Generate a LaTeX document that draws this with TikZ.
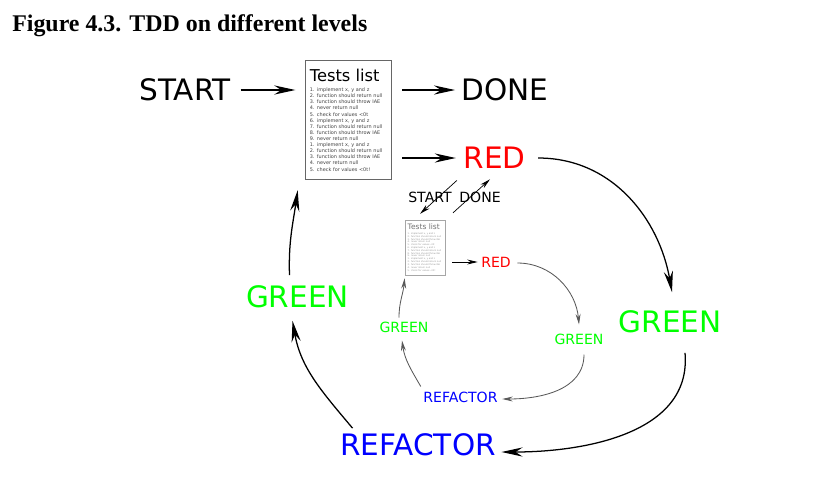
\documentclass[tikz,border=0pt]{standalone}
\usepackage{fontspec}
\setmainfont{Liberation Serif}
\setsansfont{DejaVu Sans}
\usepackage{xcolor}
\definecolor{Ink}{HTML}{000000}
\definecolor{RedStep}{HTML}{FF0000}
\definecolor{GreenStep}{HTML}{00FF00}
\definecolor{BlueStep}{HTML}{0000FF}
\usepackage{tikz}
\usetikzlibrary{arrows.meta,positioning}

\newcommand{\testitems}{%
{\fontsize{11.6}{13}\selectfont Tests\hspace{0.32em}list}\\[3pt]
\color{.!75}%
1. implement x, y and z\\
2. function should return null\\
3. function should throw IAE\\
4. never return null\\
5. check for values <0t\\
6. implement x, y and z\\
7. function should return null\\
8. function should throw IAE\\
9. never return null\\
1. implement x, y and z\\
2. function should return null\\
3. function should throw IAE\\
4. never return null\\
5. check for values <0t!}

\begin{document}
\begin{tikzpicture}[x=0.025cm,y=-0.025cm,
  big/.style={font=\sffamily\fontsize{21}{25}\selectfont,inner sep=1pt},
  small/.style={font=\sffamily\fontsize{10}{12}\selectfont,inner sep=1pt},
  listbox/.style={draw=black!60,fill=white,line width=0.6pt,align=left,text width=55pt,minimum height=85pt,inner xsep=3pt,inner ysep=4pt,font=\sffamily\fontsize{3.5}{4.35}\selectfont,text=Ink},
  slistbox/.style={listbox,draw=black!35,line width=0.5pt,text=black!55,scale=0.46,transform shape},
  arrow/.style={-{Stealth[length=15pt,width=6.5pt,inset=5pt]},line width=0.9pt,color=Ink},
  sarrow/.style={-{Stealth[length=7.5pt,width=3.5pt,inset=2.5pt]},line width=0.6pt,color=black!65}
]
\useasboundingbox (0,0) rectangle (826,482);
\node[anchor=base west,inner sep=0,font=\bfseries\fontsize{17}{20}\selectfont] (title) at (12,31) {Figure 4.3. TDD on different levels};

\node[listbox] (list) at (348.5,120) {\testitems};
\node[big] (start) at (185,90) {START};
\node[big] (done) at (505,90) {DONE};
\node[big,text=RedStep] (red) at (494.5,158) {RED};
\node[big,text=GreenStep] (greenR) at (670,322) {GREEN};
\node[big,text=BlueStep] (refactor) at (418,445) {REFACTOR};
\node[big,text=GreenStep] (greenL) at (297.5,297) {GREEN};

\node[slistbox] (slist) at (425.5,247.5) {\testitems};
\node[small] (sstart) at (430,197) {START};
\node[small] (sdone) at (480,197) {DONE};
\node[small,text=RedStep] (sred) at (496,262) {RED};
\node[small,text=GreenStep] (sgreenR) at (579,339) {GREEN};
\node[small,text=BlueStep] (srefactor) at (460.5,397) {REFACTOR};
\node[small,text=GreenStep] (sgreenL) at (404,327) {GREEN};

\draw[arrow,shorten <=6pt,shorten >=7pt] (start.east) -- (start.east -| list.west);
\draw[arrow,shorten <=7.4pt,shorten >=3.5pt] (list.east |- done.west) -- (done.west);
\draw[arrow,shorten <=7.4pt,shorten >=4.3pt] (list.east |- red.west) -- (red.west);

\draw[arrow] ([shift={(11,0)}]red.east) to[out=0,in=100] ([shift={(2,-17)}]greenR.north);
\draw[arrow] ([shift={(15,18)}]greenR.south) to[out=-85,in=0] ([shift={(4,7)}]refactor.east);
\draw[arrow] ([shift={(14,-4)}]refactor.north west) to[out=130,in=-80] ([shift={(-5,11)}]greenL.south);
\draw[arrow] ([shift={(-8,-9)}]greenL.north) to[out=92,in=-98] ([shift={(-7.5,10)}]list.south west);

\draw[sarrow,color=Ink,line width=0.5pt] ([shift={(-5,10)}]red.south west) -- ([shift={(-5.5,-6)}]slist.north);
\draw[sarrow,color=Ink,line width=0.5pt] ([shift={(7.6,-7)}]slist.north east) -- ([shift={(-4.5,8.8)}]red.south);

\draw[sarrow,color=Ink,shorten <=4.7pt,shorten >=1.3pt] (slist.east |- sred.west) -- (sred.west);
\draw[sarrow] ([shift={(5,1)}]sred.east) to[out=0,in=95] ([shift={(0,-7.5)}]sgreenR.north);
\draw[sarrow] ([shift={(5,8.5)}]sgreenR.south) to[out=-90,in=0] ([shift={(3,2)}]srefactor.east);
\draw[sarrow] ([shift={(-1,-3.5)}]srefactor.north west) to[out=120,in=-82] ([shift={(-2,6.5)}]sgreenL.south);
\draw[sarrow] ([shift={(-5,-2.5)}]sgreenL.north) to[out=90,in=-95] ([shift={(-1,3)}]slist.south west);
\end{tikzpicture}
\end{document}
